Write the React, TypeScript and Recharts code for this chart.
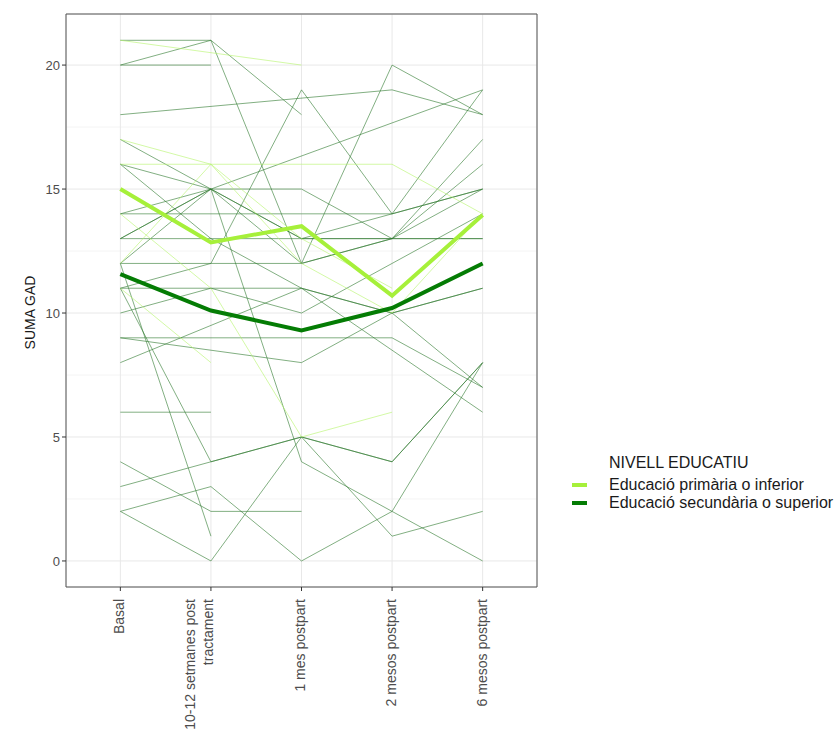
import React from "react";
import { CartesianGrid, Legend, Line, LineChart, ReferenceArea, XAxis, YAxis } from "recharts";

// time points (x axis)
const TIMEPOINTS = [
  "Basal",
  "10-12 setmanes post\ntractament",
  "1 mes postpart",
  "2 mesos postpart",
  "6 mesos postpart",
];

// individual trajectories, education: primary or lower
const PRIMARY_PATIENTS: (number | null)[][] = [
  [21, null, 20, null, null],
  [16, 16, 16, 16, 14],
  [17, 16, 12, 10, 14],
  [12, 16, 13, 11, null],
  [11, 8, null, null, null],
  [14, 11, 5, 6, null],
];

// individual trajectories, education: secondary or higher
const SECONDARY_PATIENTS: (number | null)[][] = [
  [21, 21, 12, 20, 18],
  [20, 21, 18, null, null],
  [20, 20, null, null, null],
  [18, null, null, 19, 18],
  [17, 15, 13, 13, 17],
  [16, 13, 11, 10, 11],
  [14, 15, null, null, 19],
  [14, 14, 14, 14, 15],
  [13, 13, 13, 13, 13],
  [13, 15, 4, 2, 0],
  [16, 15, 15, 13, 16],
  [12, 15, 12, 13, 15],
  [11, 4, 5, 4, 8],
  [12, 1, null, null, null],
  [10, 11, 11, 10, 7],
  [9, 9, 9, 9, 7],
  [9, null, 8, 10, 11],
  [8, null, 11, null, 6],
  [6, 6, null, null, null],
  [4, 2, 2, null, null],
  [3, 4, 5, 4, 8],
  [2, 3, 0, 2, 8],
  [2, 0, 5, 1, 2],
  [11, 12, 12, 13, 13],
  [13, 15, 13, 14, 15],
  [12, 12, 19, 14, 19],
  [11, 11, 10, 12, 14],
];

// group means
const PRIMARY_MEAN = [15.0, 12.85, 13.5, 10.7, 13.95];
const SECONDARY_MEAN = [11.57, 10.1, 9.3, 10.2, 12.0];

const Y_TICKS = [0, 5, 10, 15, 20];
const Y_MINOR = [2.5, 7.5, 12.5, 17.5];

const LEGEND_TITLE = "NIVELL EDUCATIU";
const GROUP_LABELS = ["Educació primària o inferior", "Educació secundària o superior"];

const FONT = "'Liberation Sans', Arial, sans-serif";
const LIGHT = "#a6f03a";
const DARK = "#047c04";

const data = TIMEPOINTS.map((_, i) => {
  const row: Record<string, number | null> = { t: i + 1 };
  PRIMARY_PATIENTS.forEach((p, j) => (row[`p${j}`] = p[i]));
  SECONDARY_PATIENTS.forEach((p, j) => (row[`s${j}`] = p[i]));
  row.meanP = PRIMARY_MEAN[i];
  row.meanS = SECONDARY_MEAN[i];
  return row;
});

function XTick({ x, y, payload }: any) {
  const lines = TIMEPOINTS[payload.value - 1].split("\n");
  const spacing = 18;
  const first = lines.length > 1 ? -21 : -1;
  return (
    <g transform={`translate(${x},${y + 6}) rotate(-90)`}>
      {lines.map((l, k) => (
        <text
          key={k}
          x={0}
          y={first + k * spacing}
          dy="0.35em"
          textAnchor="end"
          fontSize={14}
          fill="#4d4d4d"
          fontFamily={FONT}
        >
          {l}
        </text>
      ))}
    </g>
  );
}

function LegendBox() {
  return (
    <div style={{ position: "relative", fontFamily: FONT, color: "#1a1a1a" }}>
      <div style={{ position: "absolute", left: 609, top: 455, fontSize: 16, lineHeight: "16px", whiteSpace: "nowrap" }}>
        {LEGEND_TITLE}
      </div>
      {GROUP_LABELS.map((label, k) => (
        <React.Fragment key={label}>
          <div
            style={{
              position: "absolute",
              left: 572,
              top: 483 + k * 18,
              width: 15,
              height: 4,
              background: k === 0 ? LIGHT : DARK,
            }}
          />
          <div
            style={{
              position: "absolute",
              left: 609,
              top: 477 + k * 18,
              fontSize: 16,
              lineHeight: "16px",
              whiteSpace: "nowrap",
            }}
          >
            {label}
          </div>
        </React.Fragment>
      ))}
    </div>
  );
}

export default function App() {
  return (
    <div style={{ position: "absolute", left: 0, top: 0, width: 839, height: 738, background: "#fff" }}>
      <LineChart width={839} height={738} data={data} margin={{ top: 14, right: 302, bottom: 0, left: 0 }}>
        <CartesianGrid horizontalValues={Y_MINOR} vertical={false} stroke="#f4f4f4" strokeWidth={1} />
        <CartesianGrid stroke="#e8e8e8" strokeWidth={1} />
        <XAxis
          dataKey="t"
          type="number"
          domain={[0.4, 5.6]}
          ticks={[1, 2, 3, 4, 5]}
          interval={0}
          height={151}
          axisLine={false}
          tickLine={{ stroke: "#333" }}
          tickSize={4}
          tick={<XTick />}
        />
        <YAxis
          type="number"
          domain={[-1.05, 22.06]}
          allowDataOverflow
          ticks={Y_TICKS}
          interval={0}
          width={66}
          axisLine={false}
          tickLine={{ stroke: "#333" }}
          tickSize={4}
          tick={{ fontSize: 13, fill: "#4d4d4d", fontFamily: FONT }}
          label={{
            value: "SUMA GAD",
            angle: -90,
            position: "insideLeft",
            offset: 30,
            dy: 12,
            style: { fontSize: 14, fill: "#1a1a1a", fontFamily: FONT, textAnchor: "middle" },
          }}
        />
        <ReferenceArea x1={0.4} x2={5.6} y1={-1.05} y2={22.06} fill="none" stroke="#555" strokeWidth={1} />
        {SECONDARY_PATIENTS.map((_, j) => (
          <Line
            key={`s${j}`}
            dataKey={`s${j}`}
            stroke="#2f7a2f"
            strokeOpacity={0.6}
            strokeWidth={1}
            dot={false}
            activeDot={false}
            connectNulls
            legendType="none"
            isAnimationActive={false}
          />
        ))}
        {PRIMARY_PATIENTS.map((_, j) => (
          <Line
            key={`p${j}`}
            dataKey={`p${j}`}
            stroke="#b6f56a"
            strokeOpacity={0.6}
            strokeWidth={1}
            dot={false}
            activeDot={false}
            connectNulls
            legendType="none"
            isAnimationActive={false}
          />
        ))}
        <Line dataKey="meanP" stroke={LIGHT} strokeWidth={4} dot={false} activeDot={false} isAnimationActive={false} />
        <Line dataKey="meanS" stroke={DARK} strokeWidth={4} dot={false} activeDot={false} isAnimationActive={false} />
        <Legend
          content={<LegendBox />}
          wrapperStyle={{ position: "absolute", left: 0, top: 0, width: 839, height: 0, margin: 0 }}
        />
      </LineChart>
    </div>
  );
}
